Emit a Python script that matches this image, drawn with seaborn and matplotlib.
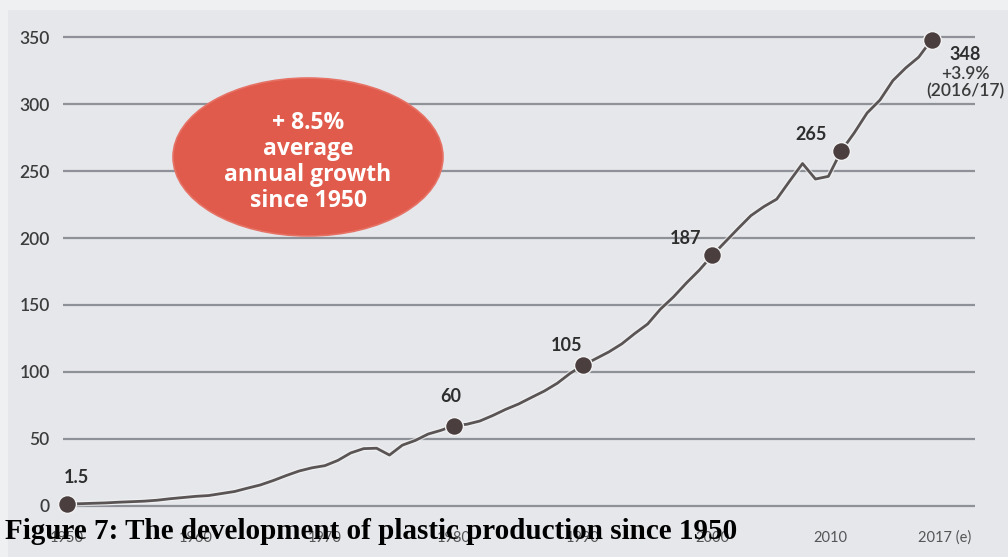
import matplotlib
matplotlib.use("Agg")
import matplotlib.pyplot as plt
import matplotlib.patheffects as pe
from matplotlib.patches import Ellipse, Rectangle
from matplotlib.transforms import ScaledTranslation
import seaborn as sns
import pandas as pd

# ---------------- data ----------------
years = list(range(1950, 2018))
production = [1.5, 1.7, 2.0, 2.3, 2.8, 3.2, 3.6, 4.3, 5.4, 6.3,
              7.2, 7.8, 9.3, 10.8, 13.3, 15.7, 19.0, 22.7, 26.1, 28.5,
              30.1, 34.0, 39.6, 42.8, 43.1, 38.0, 45.4, 48.9, 53.7, 56.5,
              60.0, 61.0, 63.4, 67.5, 72.1, 76.1, 81.0, 85.8, 91.6, 99.0,
              105.0, 110.0, 115.0, 121.0, 128.7, 135.8, 147.0, 156.0, 166.4, 176.0,
              187.0, 197.0, 207.0, 216.7, 223.4, 229.0, 242.5, 255.6, 244.0, 246.0,
              265.0, 278.4, 293.3, 303.0, 317.5, 327.0, 335.0, 348.0]

marker_years = [1950, 1980, 1990, 2000, 2010, 2017]
marker_values = [1.5, 60, 105, 187, 265, 348]
marker_labels = ["1.5", "60", "105", "187", "265", "348"]

xtick_years = [1950, 1960, 1970, 1980, 1990, 2000, 2010, 2017]
xtick_labels = ["1950", "1960", "1970", "1980", "1990", "2000", "2010", "2017 (e)"]
ytick_values = [0, 50, 100, 150, 200, 250, 300, 350]

bubble_text = "+ 8.5%\naverage\nannual growth\nsince 1950"
last_note = "+3.9%\n(2016/17)"
caption = "Figure 7: The development of plastic production since 1950"

df = pd.DataFrame({"year": years, "production": production})
mk = pd.DataFrame({"year": marker_years, "production": marker_values})

# ---------------- style ----------------
sns.set_theme(style="white")
plt.rcParams["font.family"] = ["Lato", "DejaVu Sans"]

W, H = 1008, 557
bg = "#e5e7eb"
fig = plt.figure(figsize=(W / 100, H / 100), dpi=100, facecolor="#eef0f2")
fig.patches.append(Rectangle((8 / W, 0), 1, 1 - 10 / H, transform=fig.transFigure,
                             facecolor=bg, edgecolor="none", zorder=-10))

ax_left, ax_right = 63 / W, 975 / W
ax_bottom_px, ax_top_px = 510, 26.3
ax = fig.add_axes([ax_left, 1 - ax_bottom_px / H, ax_right - ax_left,
                   (ax_bottom_px - ax_top_px) / H])
ax.set_facecolor("none")

ax.set_xlim(1949.71, 2020.36)
ax.set_ylim(-3, 358)

for v in ytick_values:
    ax.axhline(v, color="#8e9197", lw=1.6, zorder=1)

sns.lineplot(data=df, x="year", y="production", ax=ax, color="#5a5455",
             lw=2.0, zorder=3,
             path_effects=[pe.Stroke(linewidth=3.8, foreground="#f4f4f4", alpha=0.7), pe.Normal()])
sns.scatterplot(data=mk, x="year", y="production", ax=ax, s=165, color="#4b3e3f",
                edgecolor="#f2f2f2", linewidth=1.0, zorder=4, clip_on=False)

# marker labels (offsets in points)
offsets = [(7, 19), (-2, 21), (-12, 14), (-19, 12), (-22, 11.5)]
for yr, val, lab, off in zip(marker_years[:-1], marker_values[:-1], marker_labels[:-1], offsets):
    ax.annotate(lab, (yr, val), xytext=off, textcoords="offset points",
                ha="center", va="center", fontsize=13, fontweight="bold", color="#2e2e2e")
ax.annotate(marker_labels[-1], (marker_years[-1], marker_values[-1]), xytext=(24, -10.5),
            textcoords="offset points", ha="center", va="center",
            fontsize=13, fontweight="bold", color="#2e2e2e", annotation_clip=False)
ax.annotate(last_note, (marker_years[-1], marker_values[-1]), xytext=(24, -31),
            textcoords="offset points", ha="center", va="center", linespacing=1.1,
            fontsize=12.5, fontweight="semibold", color="#3a3a3a", annotation_clip=False)

# growth bubble
ax.add_patch(Ellipse((308 / W, 1 - 157 / H), 270 / W, 158 / H, transform=fig.transFigure,
                     facecolor="#e05b4b", edgecolor="#e67266", lw=1.2, zorder=5))
fig.text(308 / W, 1 - 162 / H, bubble_text, ha="center", va="center", color="white",
         fontsize=16.5, fontweight="bold", linespacing=1.12, zorder=6,
         family=["Open Sans", "DejaVu Sans"])

# ticks
ax.set_xticks(xtick_years)
ax.set_xticklabels(xtick_labels)
ax.set_yticks(ytick_values)
ax.set_yticklabels([str(v) for v in ytick_values])
ax.tick_params(axis="x", length=0, pad=15, labelsize=10.5, labelcolor="#555555")
ax.tick_params(axis="y", length=0, pad=9.5, labelsize=12.5, labelcolor="#3c3c3c")
for t in ax.get_yticklabels():
    t.set_fontweight("semibold")
xt = ax.get_xticklabels()
xt[-2].set_transform(xt[-2].get_transform() + ScaledTranslation(-8 / 72, 0, fig.dpi_scale_trans))
xt[-1].set_transform(xt[-1].get_transform() + ScaledTranslation(9 / 72, 0, fig.dpi_scale_trans))
ax.set_xlabel("")
ax.set_ylabel("")
for s in ax.spines.values():
    s.set_visible(False)

fig.text(5 / W, 1 - 539 / H, caption, ha="left", va="baseline", fontsize=21,
         fontweight="bold", color="black", family=["Liberation Serif", "DejaVu Serif"],
         zorder=10)

fig.savefig("out.png", dpi=100, facecolor=fig.get_facecolor())
